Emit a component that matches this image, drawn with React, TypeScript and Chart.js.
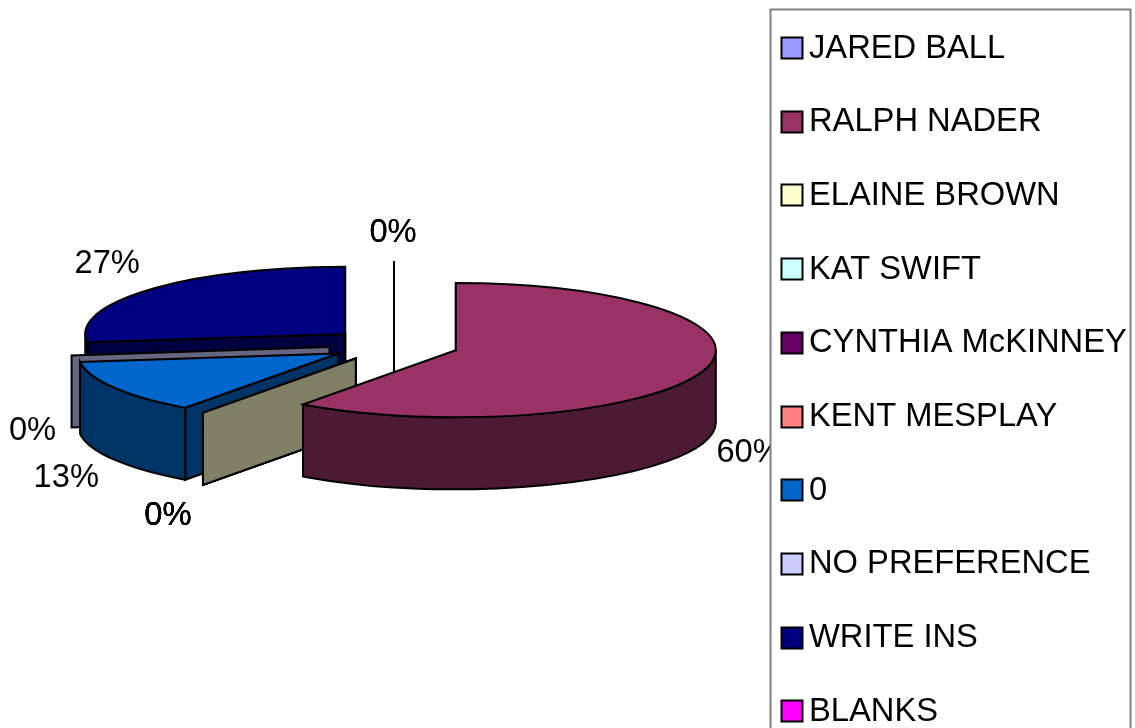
import React, { useEffect, useRef } from "react";
import { Chart, registerables } from "chart.js";

Chart.register(...registerables);

const categories = ["JARED BALL", "RALPH NADER", "ELAINE BROWN", "KAT SWIFT", "CYNTHIA McKINNEY", "KENT MESPLAY", "0", "NO PREFERENCE", "WRITE INS", "BLANKS"];
const shares = [0, 60, 0, 0, 0, 0, 13, 0, 27, 0];
const topColors = ["#9999ff", "#993366", "#ffffcc", "#ccffff", "#660066", "#ff8080", "#0066cc", "#ccccff", "#000080", "#ff00ff"];
const wallColors = ["#4d4d80", "#4d1a33", "#808066", "#668080", "#330033", "#804040", "#003366", "#666680", "#000040", "#800080"];
// back-to-front painting order of the slices
const paintOrder = [0, 9, 8, 7, 6, 5, 4, 3, 2, 1];
// label offset from the slice's rim point
const labelOffsets: [number, number][] = [[-1, -28], [46, 82], [-35, 103], [-35, 103], [-35, 103], [-35, 103], [-48, 90], [-39, 75], [-43, -26], [-1, -28]];

const FONT = '"Liberation Sans", Arial, sans-serif';
const RADIUS = 260;
const SQUASH = 0.258;
const DEPTH = 72;
const EXPLODE = 65;
const LEGEND = { left: 770.5, top: 9.5, right: 1130.5, bottom: 760, firstY: 48, pitch: 73.7, markerX: 781.5, marker: 22, textX: 809, font: 32.7 };

const pie3d = {
  id: "pie3d",
  beforeDraw(chart: any) {
    const { ctx } = chart;
    ctx.save();
    ctx.fillStyle = "#ffffff";
    ctx.fillRect(0, 0, chart.width, chart.height);
    ctx.restore();
  },
  beforeDatasetDraw(chart: any) {
    const { ctx } = chart;
    const arcs = chart.getDatasetMeta(0).data;
    const ry = (r: number) => r * SQUASH;
    ctx.save();
    ctx.lineWidth = 2;
    ctx.strokeStyle = "#000000";
    ctx.lineJoin = "miter";
    for (const i of paintOrder) {
      const arc = arcs[i];
      const { x, y, startAngle: a0, endAngle: a1, outerRadius: r } = arc;
      const mid = (a0 + a1) / 2;
      const ax = x + Math.cos(mid) * EXPLODE;
      const ay = y + Math.sin(mid) * EXPLODE * SQUASH;
      const px = (a: number) => ax + Math.cos(a) * r;
      const py = (a: number) => ay + Math.sin(a) * ry(r);
      const empty = a1 - a0 < 1e-6;
      // radial face at the start edge
      if (Math.cos(a0) < 1e-6) {
        ctx.beginPath();
        ctx.moveTo(ax, ay);
        ctx.lineTo(px(a0), py(a0));
        ctx.lineTo(px(a0), py(a0) + DEPTH);
        ctx.lineTo(ax, ay + DEPTH);
        ctx.closePath();
        ctx.fillStyle = wallColors[i];
        ctx.fill();
        ctx.stroke();
      }
      if (empty) continue;
      // outer rim facing the viewer
      const s = Math.max(a0, 0);
      const e = Math.min(a1, Math.PI);
      if (e > s) {
        ctx.beginPath();
        ctx.ellipse(ax, ay, r, ry(r), 0, s, e, false);
        ctx.lineTo(px(e), py(e) + DEPTH);
        ctx.ellipse(ax, ay + DEPTH, r, ry(r), 0, e, s, true);
        ctx.closePath();
        ctx.fillStyle = wallColors[i];
        ctx.fill();
        ctx.stroke();
      }
      // flat wall below the apex when the end edge is edge-on
      if (Math.abs(Math.cos(a1)) < 1e-6 && Math.sin(a1) < 0) {
        ctx.beginPath();
        ctx.moveTo(ax, ay);
        ctx.lineTo(ax, ay + DEPTH);
        ctx.stroke();
      }
      // top face: the library's arc, squashed about the pie centre
      ctx.save();
      ctx.translate(ax, ay);
      ctx.scale(1, SQUASH);
      ctx.translate(-x, -y);
      arc.draw(ctx);
      ctx.restore();
      ctx.beginPath();
      ctx.moveTo(ax, ay);
      ctx.ellipse(ax, ay, r, ry(r), 0, a0, a1, false);
      ctx.closePath();
      ctx.stroke();
    }
    ctx.restore();
    return false;
  },
  afterDatasetsDraw(chart: any) {
    const { ctx } = chart;
    const arcs = chart.getDatasetMeta(0).data;
    const total = shares.reduce((a, b) => a + b, 0);
    ctx.save();
    ctx.beginPath();
    ctx.rect(0, 0, LEGEND.left, chart.height);
    ctx.clip();
    ctx.fillStyle = "#000000";
    ctx.font = `${LEGEND.font}px ${FONT}`;
    ctx.textAlign = "center";
    ctx.textBaseline = "middle";
    shares.forEach((v, i) => {
      const arc = arcs[i];
      const mid = (arc.startAngle + arc.endAngle) / 2;
      const ax = arc.x + Math.cos(mid) * EXPLODE;
      const ay = arc.y + Math.sin(mid) * EXPLODE * SQUASH;
      const rimX = ax + Math.cos(mid) * arc.outerRadius;
      const rimY = ay + Math.sin(mid) * arc.outerRadius * SQUASH;
      ctx.fillText(`${Math.round((v / total) * 100)}%`, rimX + labelOffsets[i][0], rimY + labelOffsets[i][1]);
    });
    ctx.restore();

    // legend
    ctx.save();
    ctx.strokeStyle = "#808080";
    ctx.lineWidth = 2;
    ctx.beginPath();
    ctx.rect(LEGEND.left, LEGEND.top, LEGEND.right - LEGEND.left, LEGEND.bottom - LEGEND.top);
    ctx.stroke();
    ctx.font = `${LEGEND.font}px ${FONT}`;
    ctx.textAlign = "left";
    ctx.textBaseline = "middle";
    chart.data.labels.forEach((label: string, i: number) => {
      const cy = LEGEND.firstY + i * LEGEND.pitch;
      ctx.fillStyle = topColors[i];
      ctx.strokeStyle = "#000000";
      ctx.lineWidth = 2;
      ctx.beginPath();
      ctx.rect(LEGEND.markerX, Math.round(cy - LEGEND.marker / 2) + 0.5, LEGEND.marker - 1, LEGEND.marker - 1);
      ctx.fill();
      ctx.stroke();
      ctx.fillStyle = "#000000";
      ctx.fillText(label, LEGEND.textX, cy + 0.5);
    });
    ctx.restore();
  },
};

export default function App() {
  const ref = useRef<HTMLCanvasElement>(null);
  useEffect(() => {
    document.body.style.margin = "0";
    document.body.style.overflow = "hidden";
    const chart = new Chart(ref.current!, {
      type: "pie",
      data: {
        labels: categories,
        datasets: [{ data: shares, backgroundColor: topColors, borderWidth: 0, radius: RADIUS }],
      },
      options: {
        animation: false,
        responsive: false,
        layout: { padding: { left: 0, top: 0, right: 347, bottom: 38 } },
        plugins: { legend: { display: false }, tooltip: { enabled: false } },
      },
      plugins: [pie3d],
    } as any);
    return () => chart.destroy();
  }, []);
  return (
    <div style={{ width: 1135, height: 728, overflow: "hidden" }}>
      <canvas ref={ref} width={1135} height={728} style={{ display: "block" }} />
    </div>
  );
}
